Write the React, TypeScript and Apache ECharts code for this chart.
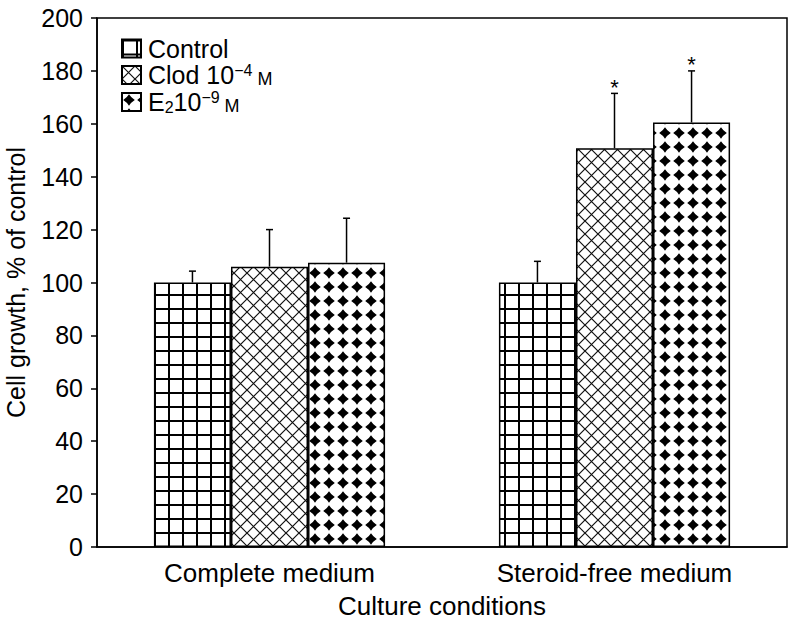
import React, { useEffect, useRef } from "react";
import * as echarts from "echarts";

const categories = ["Complete medium", "Steroid-free medium"];
const seriesNames = ["Control", "Clod", "E2"];
const controlValues = [100, 100];
const controlErr = [4.3, 8];
const clodValues = [106, 150.8];
const clodErr = [14, 20.7];
const e2Values = [107.5, 160.5];
const e2Err = [16.8, 19.5];
const clodSig = [0, 1];
const e2Sig = [0, 1];
const controlSig = [0, 0];
const yTicks = { min: 0, max: 200, interval: 20 };

const FONT = "'Liberation Sans', Arial, Helvetica, sans-serif";
const FS = 25;

function gridTile() {
  const c = document.createElement("canvas");
  c.width = 14;
  c.height = 14;
  const g = c.getContext("2d")!;
  g.fillStyle = "#fff";
  g.fillRect(0, 0, 14, 14);
  g.fillStyle = "#000";
  g.fillRect(0, 0, 14, 2);
  g.fillRect(0, 0, 2, 14);
  return c;
}

function crossTile() {
  const s = 13;
  const c = document.createElement("canvas");
  c.width = s;
  c.height = s;
  const g = c.getContext("2d")!;
  g.fillStyle = "#fff";
  g.fillRect(0, 0, s, s);
  g.strokeStyle = "#111";
  g.lineWidth = 1.2;
  g.beginPath();
  g.moveTo(0, 0);
  g.lineTo(s, s);
  g.moveTo(s, 0);
  g.lineTo(0, s);
  g.stroke();
  return c;
}

function starTile() {
  const s = 14;
  const c = document.createElement("canvas");
  c.width = s;
  c.height = s;
  const g = c.getContext("2d")!;
  g.fillStyle = "#fff";
  g.fillRect(0, 0, s, s);
  g.fillStyle = "#000";
  const cx = s / 2;
  const cy = s / 2;
  const r = 5.8;
  const k = 2.2;
  g.beginPath();
  g.moveTo(cx, cy - r);
  g.quadraticCurveTo(cx + k, cy - k, cx + r, cy);
  g.quadraticCurveTo(cx + k, cy + k, cx, cy + r);
  g.quadraticCurveTo(cx - k, cy + k, cx - r, cy);
  g.quadraticCurveTo(cx - k, cy - k, cx, cy - r);
  g.closePath();
  g.fill();
  return c;
}

export default function App() {
  const ref = useRef<HTMLDivElement>(null);
  useEffect(() => {
    const chart = echarts.init(ref.current!, null, { renderer: "svg" });
    const patterns = [gridTile(), crossTile(), starTile()];
    const values = [controlValues, clodValues, e2Values];
    const errs = [controlErr, clodErr, e2Err];
    const sigs = [controlSig, clodSig, e2Sig];
    const gapPct = 0.33;

    const barSeries = seriesNames.map((name, i) => ({
      type: "bar",
      name,
      data: values[i],
      barGap: "0%",
      barCategoryGap: "33%",
      itemStyle: {
        color: { image: patterns[i], repeat: "repeat" },
        borderColor: "#000",
        borderWidth: 1.5,
      },
      emphasis: { disabled: true },
    }));

    const errSeries = seriesNames.map((_, i) => ({
      type: "custom",
      silent: true,
      z: 5,
      data: values[i].map((v, j) => [j, v, errs[i][j], sigs[i][j]]),
      renderItem: (params: any, api: any) => {
        const idx = api.value(0);
        const v = api.value(1);
        const e = api.value(2);
        const sig = api.value(3);
        const base = api.coord([idx, v]);
        const top = api.coord([idx, v + e]);
        const catW = api.size([1, 0])[0];
        const bw = (catW * (1 - gapPct)) / 3;
        const x = base[0] + (i - 1) * bw;
        const children: any[] = [
          {
            type: "line",
            shape: { x1: x, y1: base[1], x2: x, y2: top[1] },
            style: { stroke: "#000", lineWidth: 1.5 },
          },
          {
            type: "line",
            shape: { x1: x - 3.5, y1: top[1], x2: x + 3.5, y2: top[1] },
            style: { stroke: "#000", lineWidth: 1.5 },
          },
        ];
        if (sig) {
          children.push({
            type: "text",
            x: x,
            y: top[1] - 6,
            style: {
              text: "*",
              fontSize: 22,
              fontFamily: FONT,
              fill: "#000",
              align: "center",
              verticalAlign: "middle",
            },
          });
        }
        return { type: "group", children };
      },
    }));

    chart.setOption({
      animation: false,
      grid: {
        left: 97,
        right: 2,
        top: 18,
        bottom: 74,
        outerBoundsMode: "none",
        containLabel: false,
        show: true,
        borderColor: "#000",
        borderWidth: 1.5,
        backgroundColor: "transparent",
      },
      legend: {
        data: seriesNames,
        orient: "vertical",
        left: 116,
        top: 31,
        icon: "rect",
        itemWidth: 19,
        itemHeight: 18,
        itemGap: 1,
        selectedMode: false,
        formatter: (name: string) => {
          if (name === "Clod") return "{b|Clod 10}{sup|−4}{m| M}";
          if (name === "E2") return "{b|E}{sub|2}{b|10}{sup|−9}{m| M}";
          return "{b|" + name + "}";
        },
        textStyle: {
          fontFamily: FONT,
          fontSize: FS,
          color: "#000",
          padding: [0, 0, 0, 2],
          rich: {
            b: { fontSize: FS, fontFamily: FONT, color: "#000", lineHeight: 26 },
            sup: { fontSize: 16, fontFamily: FONT, color: "#000", verticalAlign: "top", lineHeight: 12 },
            sub: { fontSize: 16, fontFamily: FONT, color: "#000", verticalAlign: "bottom", lineHeight: 14 },
            m: { fontSize: 18, fontFamily: FONT, color: "#000", verticalAlign: "bottom", lineHeight: 21 },
          },
        },
      },
      xAxis: {
        type: "category",
        data: categories,
        name: "Culture conditions",
        nameLocation: "middle",
        nameGap: 46,
        nameTextStyle: { fontFamily: FONT, fontSize: 26, color: "#000" },
        axisLine: { lineStyle: { color: "#000", width: 1.5 } },
        axisTick: { show: false },
        axisLabel: { fontFamily: FONT, fontSize: 26, color: "#000", margin: 13 },
      },
      yAxis: {
        type: "value",
        min: yTicks.min,
        max: yTicks.max,
        interval: yTicks.interval,
        name: "Cell growth, % of control",
        nameLocation: "middle",
        nameGap: 69,
        nameTextStyle: { fontFamily: FONT, fontSize: FS, color: "#000" },
        axisLine: { show: true, lineStyle: { color: "#000", width: 1.5 } },
        axisTick: { show: true, length: 6, lineStyle: { color: "#000", width: 1.5 } },
        axisLabel: { fontFamily: FONT, fontSize: FS, color: "#000", margin: 14 },
        splitLine: { show: false },
      },
      series: [...barSeries, ...errSeries],
    });
    return () => chart.dispose();
  }, []);
  return <div ref={ref} style={{ width: 789, height: 621, position: "absolute", left: 0, top: 0 }} />;
}
